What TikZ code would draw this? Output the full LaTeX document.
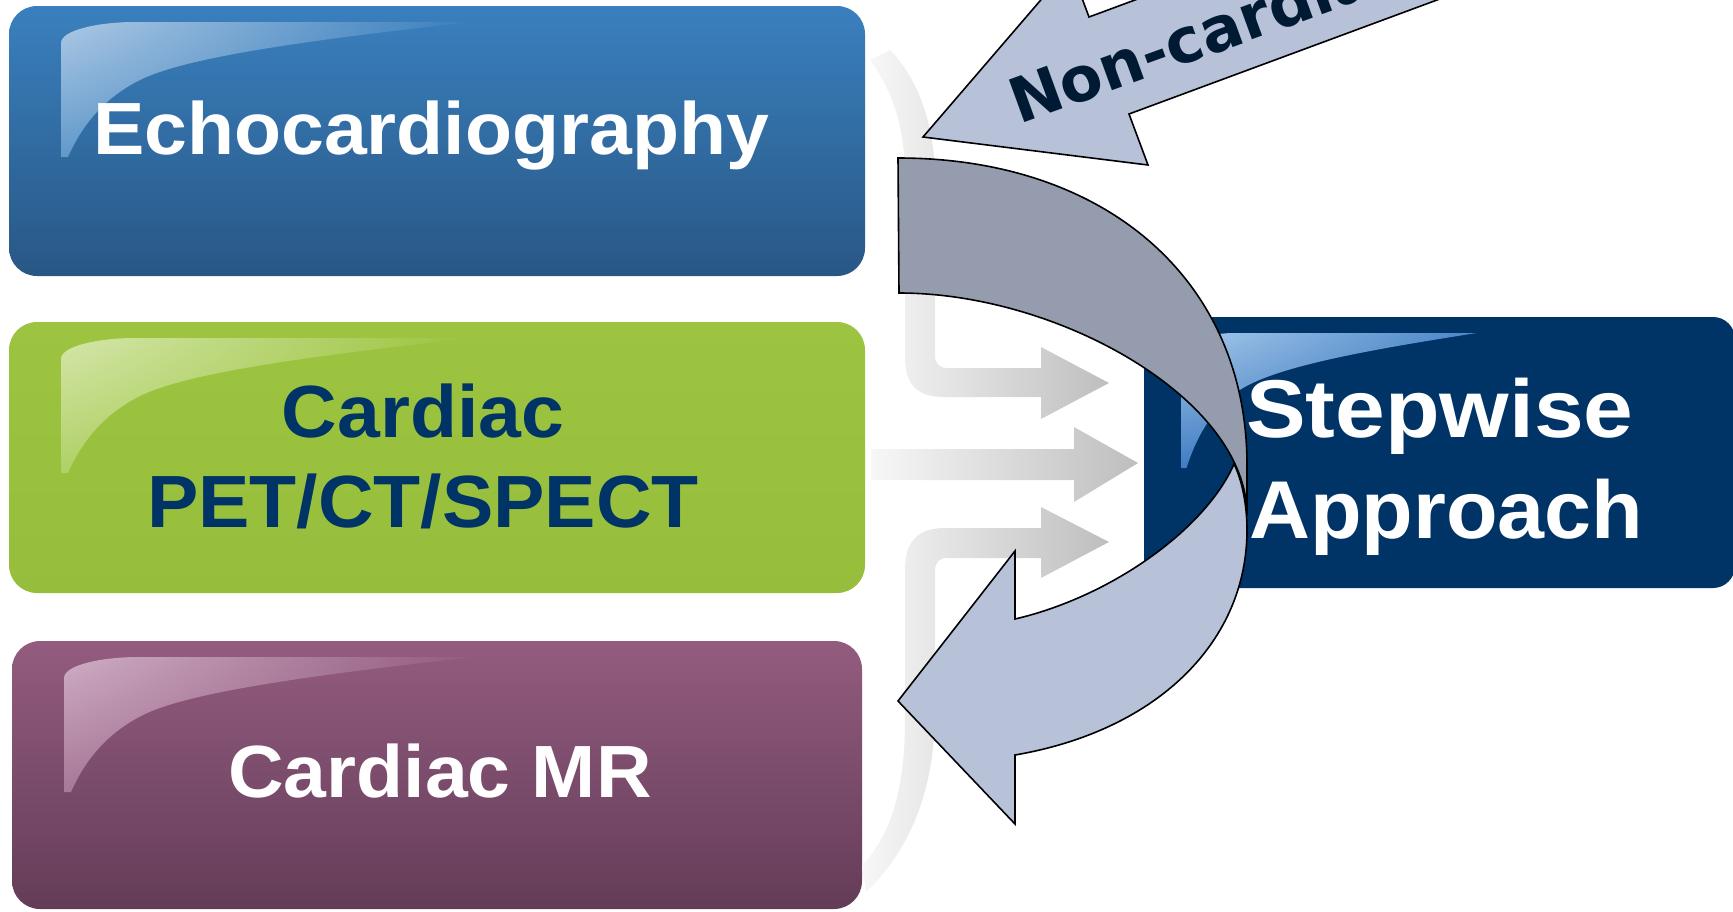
\documentclass[tikz,border=0pt]{standalone}
\usepackage{fontspec}
\setmainfont{Liberation Sans}
\newfontfamily\boxfont{Liberation Sans}[FakeStretch=1.04]
\newfontfamily\stepfont{Liberation Sans}[FakeStretch=1.09]
\newfontfamily\apprfont{Liberation Sans}[FakeStretch=1.03]
\newfontfamily\ncfont{DejaVu Sans}
\usetikzlibrary{shadings}
\definecolor{echotop}{RGB}{58,128,190}
\definecolor{echobot}{RGB}{40,87,133}
\definecolor{echohl}{RGB}{172,200,228}
\definecolor{greentop}{RGB}{157,196,64}
\definecolor{greenbot}{RGB}{150,190,60}
\definecolor{greenhl}{RGB}{212,230,170}
\definecolor{purtop}{RGB}{147,92,127}
\definecolor{purbot}{RGB}{100,60,88}
\definecolor{purhl}{RGB}{206,172,196}
\definecolor{navy}{RGB}{0,51,102}
\definecolor{navyhlA}{RGB}{165,200,235}
\definecolor{navyhlB}{RGB}{75,135,200}
\definecolor{navyhlC}{RGB}{65,125,195}
\definecolor{navyhlD}{RGB}{40,100,170}
\definecolor{arrowlight}{RGB}{183,194,217}
\definecolor{arrowdark}{RGB}{148,156,174}
\definecolor{nctext}{RGB}{0,26,51}
\definecolor{faintL}{RGB}{247,247,247}
\definecolor{faintR}{RGB}{190,190,190}
\tikzset{
  box/.style={rounded corners=28},
  boxtext/.style={anchor=base, inner sep=0pt, font=\boxfont\fontsize{74}{80}\selectfont\bfseries},
  steptext/.style={anchor=base west, inner sep=0pt, text=white},
  outl/.style={draw=black, line width=1.6pt, line join=miter},
  faint/.style={left color=faintL, right color=faintR},
  pics/gloss/.style n args={4}{code={
    \shade[upper left=#1, upper right=#2, lower left=#3, lower right=#4]
      (52,151) -- (52,37) .. controls (52,24) and (90,16) .. (126,16) -- (462,16)
      .. controls (321,32) and (181,49) .. (131,74)
      .. controls (91,94) and (71,124) .. (59,151) -- cycle;
  }}
}
\begin{document}
\begin{tikzpicture}[x=1pt,y=-1pt]
\useasboundingbox (0,0) rectangle (1733,911);
\clip (0,0) rectangle (1733,911);

% left boxes
\shade[box, top color=echotop, bottom color=echobot] (9,6) rectangle (865,276);
\shade[box, top color=greentop, bottom color=greenbot] (9,322) rectangle (865,593);
\shade[box, top color=purtop, bottom color=purbot] (12,641) rectangle (862,909);

\pic at (9,6) {gloss={echohl}{echotop}{echohl!35!echotop}{echotop!85!echobot}};
\pic at (9,322) {gloss={greenhl}{greentop}{greenhl!35!greentop}{greentop}};
\pic at (12,641) {gloss={purhl}{purtop}{purhl!35!purtop}{purtop!85!purbot}};

\node[boxtext, text=white] (echo) at (431,154) {Echocardiography};
\node[boxtext, text=navy] (cardiac) at (423,437) {Cardiac};
\node[boxtext, text=navy] (pet) at (423,527) {PET/CT/SPECT};
\node[boxtext, text=white] (mr) at (440,797) {Cardiac MR};

% faint grey arrows
\shade[faint] (890,50) .. controls (915,75) and (935,120) .. (935,180) -- (935,355)
  .. controls (935,364) and (939,368) .. (948,368) -- (1041,368) -- (1041,347)
  -- (1109,383) -- (1041,419) -- (1041,397) -- (945,397)
  .. controls (917,397) and (905,385) .. (905,357) -- (905,180)
  .. controls (905,130) and (895,95) .. (870,60) -- cycle;
\shade[faint] (871,449) -- (1074,449) -- (1074,427) -- (1138,463) -- (1074,502)
  -- (1074,480) -- (871,480) -- cycle;
\shade[faint] (862,866) .. controls (895,830) and (905,780) .. (905,720) -- (905,570)
  .. controls (905,542) and (917,528) .. (945,528) -- (1041,528) -- (1041,507)
  -- (1109,542) -- (1041,578) -- (1041,558) -- (948,558)
  .. controls (939,558) and (935,562) .. (935,571) -- (935,710)
  .. controls (935,790) and (910,850) .. (866,892) -- cycle;

% navy box
\fill[navy, rounded corners=22] (1144,317) rectangle (1735,588);
\pic[xscale=0.72] at (1144,317) {gloss={navyhlA}{navyhlB}{navyhlC}{navyhlD}};

% curved arrow: back (dark) crescent
\filldraw[fill=arrowdark, outl] (898,158) .. controls (1107,158) and (1247,281) .. (1247,465)
  -- (1247,515) .. controls (1247,400) and (1060,293) .. (899,293) -- cycle;
% curved arrow: front (light) part with head
\filldraw[fill=arrowlight, outl] (1234,464) .. controls (1242,480) and (1247,505) .. (1247,530)
  .. controls (1247,640) and (1160,730) .. (1015,755)
  -- (1015,824) -- (898,701) -- (1015,551) -- (1015,619)
  .. controls (1110,597) and (1205,530) .. (1234,464) -- cycle;

\node[steptext, font=\stepfont\fontsize{82}{90}\selectfont\bfseries] (step) at (1246,437) {Stepwise};
\node[steptext, font=\apprfont\fontsize{82}{90}\selectfont\bfseries] (appr) at (1249,538) {Approach};

% non-cardiac arrow
\filldraw[fill=arrowlight, outl] (923,137) -- (1148,165) -- (1129,114) -- (2053,-228)
  -- (2013,-325) -- (1089,17) -- (1070,-34) -- cycle;
\node[rotate=20, anchor=base west, inner sep=0pt, text=nctext,
  font=\ncfont\fontsize{62}{70}\selectfont\bfseries] (nc) at (1019,125) {Non-cardiac};
\end{tikzpicture}
\end{document}
